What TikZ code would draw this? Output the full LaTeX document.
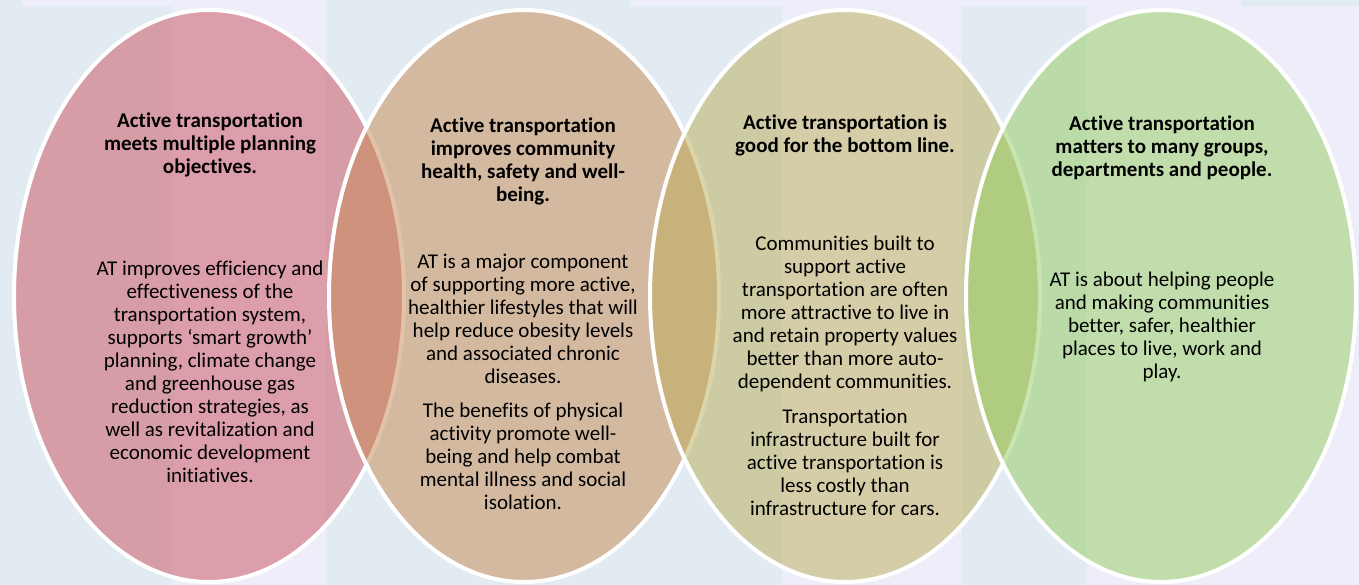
\documentclass[tikz,border=0pt]{standalone}
\usepackage{fontspec}
\setmainfont{Carlito}[Ligatures={NoCommon}]
\usetikzlibrary{shapes.geometric}
\definecolor{bgblue}{RGB}{225,235,241}
\definecolor{bglav}{RGB}{238,238,251}
\definecolor{ringone}{RGB}{205,80,92}
\definecolor{ringtwo}{RGB}{201,137,83}
\definecolor{ringthree}{RGB}{187,173,87}
\definecolor{ringfour}{RGB}{149,205,95}

\begin{document}
\begin{tikzpicture}[x=1pt, y=-1pt,
    ring/.style={ellipse, draw=white, line width=4pt, fill opacity=0.5, draw opacity=1, minimum width=390pt, minimum height=572pt, inner sep=0pt},
    head/.style={align=center, inner sep=0pt, font=\fontsize{21}{23}\selectfont\bfseries},
    body/.style={align=center, inner sep=0pt, font=\fontsize{21}{23}\selectfont}]
				\useasboundingbox (0,0) rectangle (1359,585);
				% background
				\fill[bgblue] (0,0) rectangle (1359,585);
				\fill[bglav] (21,0) rectangle (326,6);
				\fill[bglav] (173,6) rectangle (326,585);
				\fill[bglav] (631,0) rectangle (1241,6);
				\fill[bglav] (782,6) rectangle (962,585);
				\fill[bglav] (1087,6) rectangle (1359,585);
				
				\node[ring, fill=ringone] (r1) at (209,296){};
				\node[ring, fill=ringtwo] (r2) at (524,296){};
				\node[ring, fill=ringthree] (r3) at (845,296){};
				\node[ring, fill=ringfour] (r4) at (1161,296){};
				
				\node[head] (h1) at (210,145){Active transportation\\meets multiple planning\\objectives.};
				\node[body] (b1) at (210,372){AT improves efficiency and\\effectiveness of the\\transportation system,\\supports ‘smart growth’\\planning, climate change\\and greenhouse gas\\reduction strategies, as\\well as revitalization and\\economic development\\initiatives.};
				
				\node[head] (h2) at (523,161){Active transportation\\improves community\\health, safety and well-\\being.};
				\node[body] (b2) at (523,382){AT is a major component\\of supporting more active,\\healthier lifestyles that will\\help reduce obesity levels\\and associated chronic\\diseases.\\[11pt]The benefits of physical\\activity promote well-\\being and help combat\\mental illness and social\\isolation.};
				
				\node[head] (h3) at (845,135){Active transportation is\\good for the bottom line.};
				\node[body] (b3) at (845,376){Communities built to\\support active\\transportation are often\\more attractive to live in\\and retain property values\\better than more auto-\\dependent communities.\\[12pt]Transportation\\infrastructure built for\\active transportation is\\less costly than\\infrastructure for cars.};
				
				\node[head] (h4) at (1162,148){Active transportation\\matters to many groups,\\departments and people.};
				\node[body] (b4) at (1162,327){AT is about helping people\\and making communities\\better, safer, healthier\\places to live, work and\\play.};
				\end{tikzpicture}
\end{document}
